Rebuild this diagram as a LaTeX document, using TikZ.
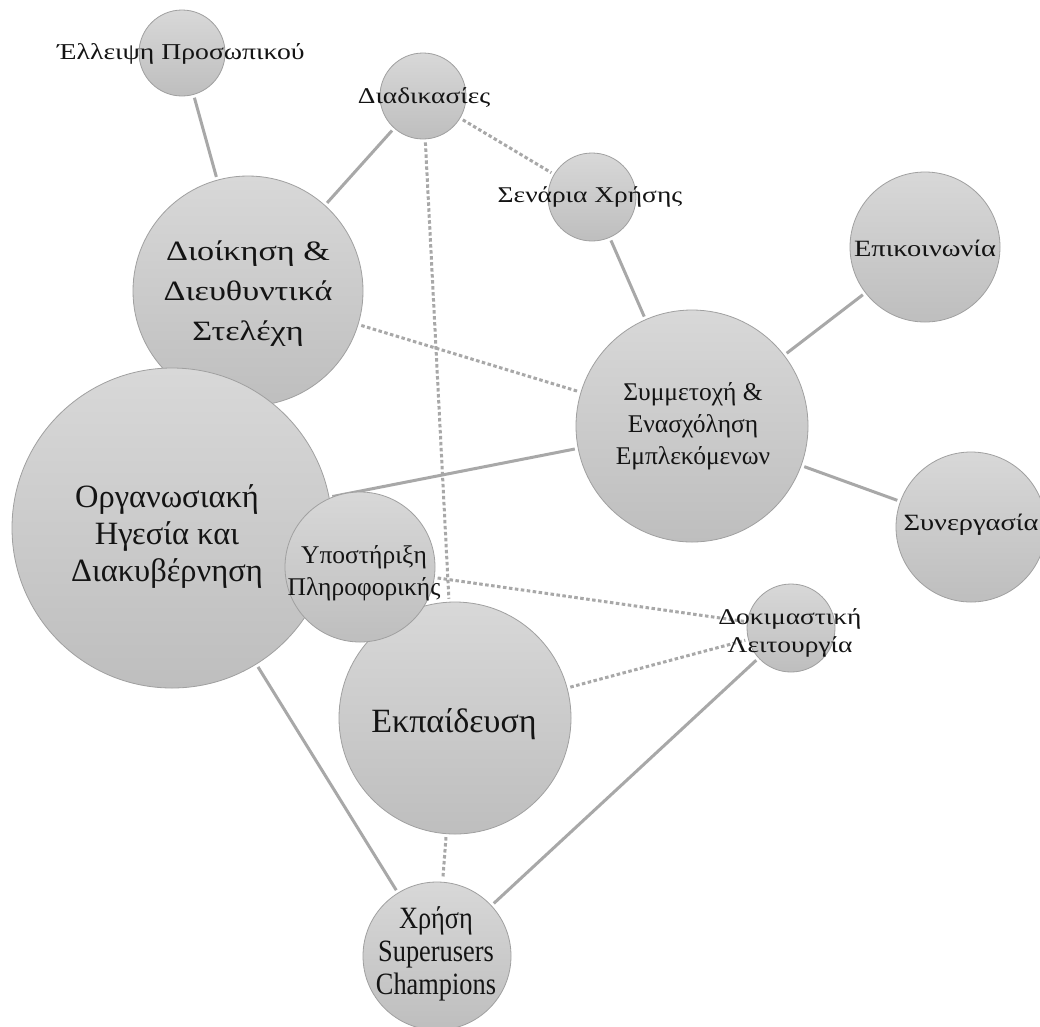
\documentclass[tikz,border=0pt]{standalone}
\usepackage{fontspec}
\setmainfont{Liberation Serif}
\newfontfamily\widefont{Liberation Serif}[FakeStretch=1.22]
\newfontfamily\narrowfont{Liberation Serif}[FakeStretch=0.85]
\usetikzlibrary{backgrounds}
\definecolor{bubtop}{RGB}{216,216,216}
\definecolor{bubbot}{RGB}{190,190,190}
\definecolor{bubedge}{RGB}{160,160,160}
\definecolor{linkgray}{RGB}{168,168,168}
\tikzset{
  bubble/.style={circle, minimum size=#1, inner sep=0pt, draw=bubedge,
    line width=0.8pt, top color=bubtop, bottom color=bubbot},
  lbl/.style={align=center, inner sep=0pt, text=black!92},
  link/.style={draw=linkgray, line width=3pt, shorten >=3pt, shorten <=3pt},
  dotlink/.style={link, dash pattern=on 3.5pt off 2.5pt}
}
\begin{document}
\begin{tikzpicture}[x=1pt, y=-1pt]
  \useasboundingbox (0,0) rectangle (1040,1026);

  % bubbles (diameter = 2r)
  \node[bubble=230pt] (dioik) at (248,291) {};
  \node[bubble=320pt] (org)   at (172,528) {};
  \node[bubble=232pt] (ekp)   at (455,718) {};
  \node[bubble=150pt] (ypo)   at (360,567) {};
  \node[bubble=86pt]  (ell)   at (182,53)  {};
  \node[bubble=86pt]  (diad)  at (423,96)  {};
  \node[bubble=88pt]  (sen)   at (592,197) {};
  \node[bubble=150pt] (epik)  at (925,247) {};
  \node[bubble=232pt] (summ)  at (692,426) {};
  \node[bubble=150pt] (syn)   at (971,527) {};
  \node[bubble=88pt]  (dok)   at (791,628) {};
  \node[bubble=148pt] (xri)   at (437,956) {};

  % white page and connectors, behind the bubbles
  \begin{scope}[on background layer]
    \fill[white] (0,0) rectangle (1040,1026);
    \draw[link] (ell) -- (dioik);
    \draw[link] (diad) -- (dioik);
    \draw[link] (sen) -- (summ);
    \draw[link] (epik) -- (summ);
    \draw[link] (summ) -- (syn);
    \draw[link] (org) -- (summ);
    \draw[link] (org) -- (xri);
    \draw[link] (dok) -- (xri);
    \draw[dotlink] (diad) -- (sen);
    \draw[dotlink] (diad) -- (ekp);
    \draw[dotlink] (dioik) -- (summ);
    \draw[dotlink] (ypo) -- (dok);
    \draw[dotlink] (ekp) -- (dok);
    \draw[dotlink] (ekp) -- (xri);
  \end{scope}

  % labels
  \node[lbl, font=\widefont\fontsize{28}{40}\selectfont] (t-dioik) at (248,294)
    {Διοίκηση \&\\Διευθυντικά\\Στελέχη};
  \node[lbl, font=\fontsize{32.5}{37}\selectfont] (t-org) at (167,536)
    {Οργανωσιακή\\Ηγεσία και\\Διακυβέρνηση};
  \node[lbl, font=\fontsize{34}{40}\selectfont] (t-ekp) at (454,724) {Εκπαίδευση};
  \node[lbl, font=\fontsize{25.5}{32}\selectfont] (t-ypo) at (364,573)
    {Υποστήριξη\\Πληροφορικής};
  \node[lbl, font=\widefont\fontsize{22.7}{28}\selectfont] (t-ell) at (181,54) {Έλλειψη Προσωπικού};
  \node[lbl, font=\widefont\fontsize{22.5}{28}\selectfont] (t-diad) at (424,98) {Διαδικασίες};
  \node[lbl, font=\widefont\fontsize{22.5}{28}\selectfont] (t-sen) at (590,197) {Σενάρια Χρήσης};
  \node[lbl, font=\widefont\fontsize{23.3}{30}\selectfont] (t-epik) at (925,248) {Επικοινωνία};
  \node[lbl, font=\fontsize{25.5}{32}\selectfont] (t-summ) at (693,426)
    {Συμμετοχή \&\\Ενασχόληση\\Εμπλεκόμενων};
  \node[lbl, font=\widefont\fontsize{23.3}{30}\selectfont] (t-syn) at (971,525) {Συνεργασία};
  \node[lbl, font=\widefont\fontsize{22.5}{28}\selectfont] (t-dok) at (790,633)
    {Δοκιμαστική\\Λειτουργία};
  \node[lbl, font=\narrowfont\fontsize{31}{33}\selectfont] (t-xri) at (436,954)
    {Χρήση\\Superusers\\Champions};
\end{tikzpicture}
\end{document}
